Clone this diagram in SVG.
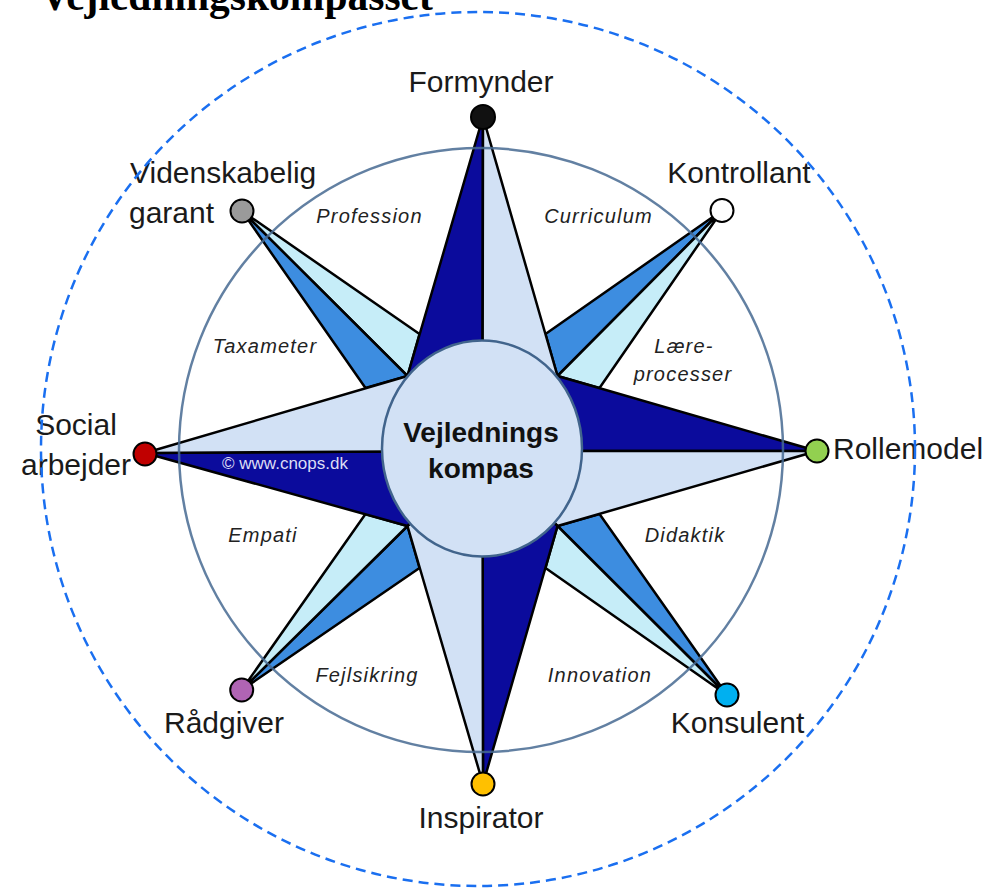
<svg xmlns="http://www.w3.org/2000/svg" width="993" height="889" viewBox="0 0 993 889">
<style>
.dk{fill:#0b0b9c;stroke:#000;stroke-width:2.5;stroke-linejoin:round}
.lt{fill:#d2e1f5;stroke:#000;stroke-width:2.5;stroke-linejoin:round}
.md{fill:#3d8de0;stroke:#000;stroke-width:2.5;stroke-linejoin:round}
.cy{fill:#c6edf8;stroke:#000;stroke-width:2.5;stroke-linejoin:round}
.dot{stroke:#000;stroke-width:2}
.lbl{font-family:"Liberation Sans",Arial,sans-serif;font-size:30px;fill:#1a1a1a}
.sec{font-family:"Liberation Sans",Arial,sans-serif;font-size:20px;font-style:italic;fill:#222;letter-spacing:1.2px;text-anchor:middle}
</style>
<rect width="993" height="889" fill="#fff"/>
<text x="40" y="10" font-family="'Liberation Serif','Times New Roman',serif" font-size="41.5" font-weight="bold" fill="#000">Vejledningskompasset</text>

<g id="diagonal-arms">
<polygon class="cy" points="242,211 419.5,334 407.5,376"/>
<polygon class="md" points="242,211 407.5,376 365.5,388"/>
<polygon class="md" points="722,210.5 545.5,334 557.5,376"/>
<polygon class="cy" points="722,210.5 557.5,376 599.5,388"/>
<polygon class="md" points="727,695 599.5,514 557.5,526"/>
<polygon class="cy" points="727,695 557.5,526 545.5,568"/>
<polygon class="md" points="241.7,690 419.5,568 407.5,526"/>
<polygon class="cy" points="241.7,690 407.5,526 365.5,514"/>
</g>
<g id="main-arms">
<polygon class="dk" points="483,117 407.5,376 482.5,451"/>
<polygon class="lt" points="483,117 482.5,451 557.5,376"/>
<polygon class="dk" points="817,451 557.5,376 482.5,451"/>
<polygon class="lt" points="817,451 482.5,451 557.5,526"/>
<polygon class="dk" points="483,784 557.5,526 482.5,451"/>
<polygon class="lt" points="483,784 482.5,451 407.5,526"/>
<polygon class="dk" points="145,453 407.5,526 482.5,451"/>
<polygon class="lt" points="145,453 482.5,451 407.5,376"/>
</g>
<circle cx="481" cy="450" r="302" fill="none" stroke="#466a92" stroke-width="2.5" stroke-opacity="0.85"/>
<text x="285" y="469" font-family="'Liberation Sans',Arial,sans-serif" font-size="17" fill="#dcdcf4" text-anchor="middle">© www.cnops.dk</text>

<g id="center">
<ellipse cx="482" cy="448.5" rx="100" ry="108" fill="#d2e1f5" stroke="#41648c" stroke-width="2.5"/>
<text x="481" y="442" font-family="'Liberation Sans',Arial,sans-serif" font-size="28" font-weight="bold" fill="#111" text-anchor="middle">Vejlednings</text>
<text x="481" y="478" font-family="'Liberation Sans',Arial,sans-serif" font-size="28" font-weight="bold" fill="#111" text-anchor="middle">kompas</text>
</g>

<g id="sectors">
<text class="sec" x="369.5" y="223">Profession</text>
<text class="sec" x="598.5" y="223">Curriculum</text>
<text class="sec" x="265" y="353">Taxameter</text>
<text class="sec" x="684" y="353">Lære-</text>
<text class="sec" x="683" y="381">processer</text>
<text class="sec" x="263" y="542">Empati</text>
<text class="sec" x="685" y="542">Didaktik</text>
<text class="sec" x="367" y="682">Fejlsikring</text>
<text class="sec" x="600" y="682">Innovation</text>
</g>

<g id="node-formynder">
<circle class="dot" cx="483" cy="117" r="12" fill="#111"/>
<text class="lbl" x="481" y="92" text-anchor="middle">Formynder</text>
</g>
<g id="node-kontrollant">
<circle class="dot" cx="722" cy="210.5" r="11.5" fill="#fff"/>
<text class="lbl" x="739" y="183" text-anchor="middle">Kontrollant</text>
</g>
<g id="node-rollemodel">
<circle class="dot" cx="817" cy="451" r="11.5" fill="#92d050"/>
<text class="lbl" x="833" y="459">Rollemodel</text>
</g>
<g id="node-konsulent">
<circle class="dot" cx="727" cy="695" r="11.5" fill="#00b0f0"/>
<text class="lbl" x="737.5" y="733" text-anchor="middle">Konsulent</text>
</g>
<g id="node-inspirator">
<circle class="dot" cx="483" cy="784" r="11.5" fill="#ffc000"/>
<text class="lbl" x="481" y="828" text-anchor="middle">Inspirator</text>
</g>
<g id="node-raadgiver">
<circle class="dot" cx="241.7" cy="690" r="11.5" fill="#b064b4"/>
<text class="lbl" x="224" y="733" text-anchor="middle">Rådgiver</text>
</g>
<g id="node-social">
<circle class="dot" cx="145" cy="454" r="11.5" fill="#c00000"/>
<text class="lbl" x="76" y="435" text-anchor="middle">Social</text>
<text class="lbl" x="76" y="475" text-anchor="middle">arbejder</text>
</g>
<g id="node-videnskabelig">
<circle class="dot" cx="242" cy="211" r="11.5" fill="#9a9a9a"/>
<text class="lbl" x="130" y="183">Videnskabelig</text>
<text class="lbl" x="129" y="223">garant</text>
</g>

<circle cx="478" cy="449" r="437" fill="none" stroke="#1a6ff0" stroke-width="2.5" stroke-dasharray="10 6"/>
</svg>
